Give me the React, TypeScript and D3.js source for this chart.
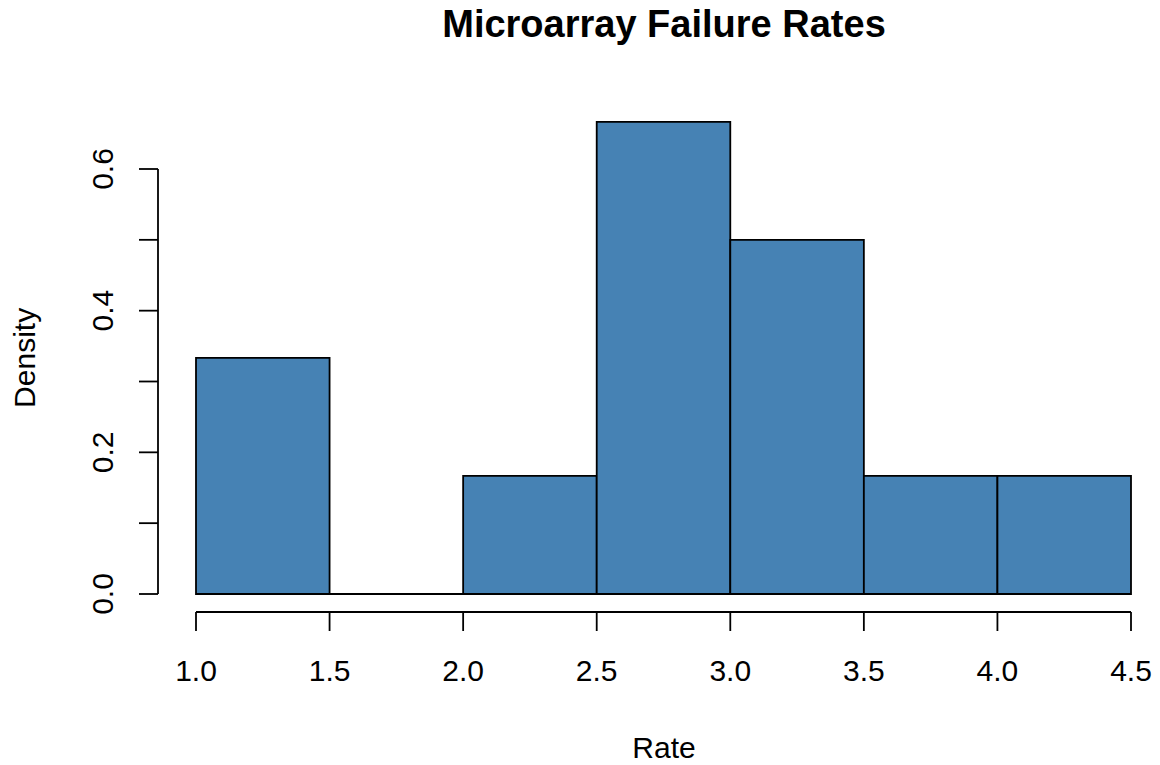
import React from "react";
import * as d3 from "d3";

// Histogram bins (break points) and densities
const binStarts = [1.0, 1.5, 2.0, 2.5, 3.0, 3.5, 4.0];
const binWidth = 0.5;
const densities = [2 / 6, 0, 1 / 6, 4 / 6, 3 / 6, 1 / 6, 1 / 6];

const xTicks = [1.0, 1.5, 2.0, 2.5, 3.0, 3.5, 4.0, 4.5];
const yTicks = [0.0, 0.1, 0.2, 0.3, 0.4, 0.5, 0.6];
const yTickLabels = [0.0, 0.2, 0.4, 0.6];

const title = "Microarray Failure Rates";
const xLabel = "Rate";
const yLabel = "Density";

const W = 1160;
const H = 765;
const FONT = "Liberation Sans, Arial, Helvetica, sans-serif";

export default function App() {
  const x = d3.scaleLinear().domain([1.0, 4.5]).range([196, 1131]);
  const y = d3.scaleLinear().domain([0, 0.6]).range([594, 169]);

  const axisY = 612;
  const axisX = 158;
  const tick = 19;
  const fs = 30;
  const sw = 1.8;
  const maxD = d3.max(densities) as number;

  // Each bar is a closed path so that empty bins still show their outline
  const barPath = (b: number, d: number) => {
    const p = d3.path();
    p.moveTo(x(b), y(0));
    p.lineTo(x(b), y(d));
    p.lineTo(x(b + binWidth), y(d));
    p.lineTo(x(b + binWidth), y(0));
    p.closePath();
    return p.toString();
  };

  return (
    <svg
      width={W}
      height={H}
      style={{ position: "absolute", left: 0, top: 0, background: "#fff" }}
      fontFamily={FONT}
    >
      <rect x={0} y={0} width={W} height={H} fill="#fff" />
      {/* bars */}
      {binStarts.map((b, i) => (
        <path
          key={i}
          d={barPath(b, densities[i])}
          fill="#4682B4"
          stroke="#000"
          strokeWidth={sw}
        />
      ))}
      {/* x axis */}
      <line x1={x(xTicks[0])} x2={x(xTicks[xTicks.length - 1])} y1={axisY} y2={axisY} stroke="#000" strokeWidth={sw} />
      {xTicks.map((t) => (
        <g key={t}>
          <line x1={x(t)} x2={x(t)} y1={axisY} y2={axisY + tick} stroke="#000" strokeWidth={sw} />
          <text x={x(t)} y={681} textAnchor="middle" fontSize={fs}>
            {t.toFixed(1)}
          </text>
        </g>
      ))}
      {/* y axis */}
      <line x1={axisX} x2={axisX} y1={y(yTicks[0])} y2={y(yTicks[yTicks.length - 1])} stroke="#000" strokeWidth={sw} />
      {yTicks.map((t) => (
        <line key={t} x1={axisX - tick} x2={axisX} y1={y(t)} y2={y(t)} stroke="#000" strokeWidth={sw} />
      ))}
      {yTickLabels.map((t) => (
        <text
          key={t}
          transform={`translate(113,${y(t)}) rotate(-90)`}
          textAnchor="middle"
          fontSize={fs}
        >
          {t.toFixed(1)}
        </text>
      ))}
      {/* titles */}
      <text x={664} y={37} textAnchor="middle" fontSize={38} fontWeight="bold">
        {title}
      </text>
      <text x={664} y={758} textAnchor="middle" fontSize={fs}>
        {xLabel}
      </text>
      <text transform={`translate(35,${y(maxD / 2)}) rotate(-90)`} textAnchor="middle" fontSize={fs}>
        {yLabel}
      </text>
    </svg>
  );
}
